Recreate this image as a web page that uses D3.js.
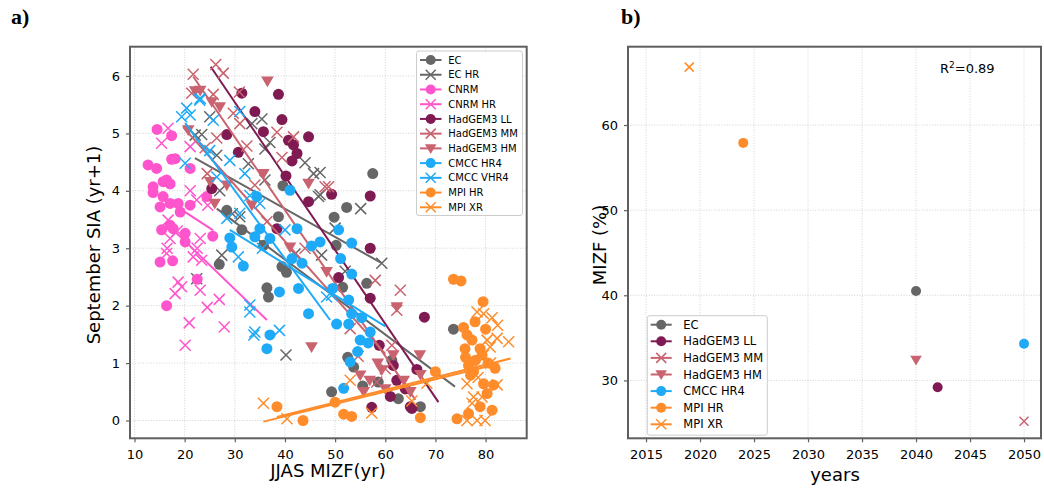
<!DOCTYPE html>
<html><head><meta charset="utf-8">
<script src="https://cdn.jsdelivr.net/npm/d3@7"></script>
<style>
body{margin:0;background:#fff}
svg{font-family:"DejaVu Sans",sans-serif}
</style>
</head><body>
<svg id="c" width="1044" height="489"></svg>
<script>
// ---------- Panel a data: [JJAS MIZF(yr), September SIA(yr+1)] ----------
const ecPts = [[57.5,4.30],[52.3,3.71],[49.8,3.54],[50.2,3.05],[56.3,2.39],[51.5,2.32],[39.6,4.09],[28.4,3.66],[38.7,3.55],[31.4,3.32],[35.7,3.05],[26.9,2.72],[39.4,2.68],[40.3,2.58],[36.4,2.31],[36.7,2.15],[53.7,0.93],[49.3,0.50],[62.6,0.38],[67.0,0.24],[58.6,0.67],[61.3,1.05],[73.6,1.59],[52.5,1.10],[55.5,0.60]];
const ecHrPts = [[25.0,5.29],[35.4,5.25],[33.4,5.17],[22.1,4.97],[23.4,4.98],[37.0,4.84],[36.0,4.73],[44.0,4.49],[32.7,4.47],[47.0,4.32],[36.0,4.19],[26.4,4.62],[47.0,3.93],[27.0,4.00],[46.7,3.90],[55.1,3.69],[59.3,2.74],[50.0,3.35],[47.3,2.88],[27.4,2.88],[22.4,2.47],[45.7,4.30],[40.2,1.14],[29.5,3.60],[31.0,3.55],[52.0,2.60],[42.0,2.90]];
const cnrmPts = [[14.5,5.07],[17.4,4.96],[12.7,4.45],[14.4,4.39],[17.4,4.55],[18.1,4.56],[16.4,4.19],[15.7,4.16],[17.1,4.12],[13.7,4.07],[13.7,3.97],[21.1,4.39],[15.7,3.90],[17.1,3.78],[18.7,3.78],[15.1,3.72],[19.1,3.63],[21.1,3.75],[15.4,3.32],[17.7,3.34],[20.1,3.26],[25.6,3.21],[24.4,3.90],[17.1,3.40],[20.1,3.11],[15.1,2.76],[17.6,2.78],[22.5,2.46],[16.4,2.00]];
const cnrmHrPts = [[16.7,5.09],[15.4,4.83],[21.1,4.77],[21.1,4.00],[22.4,3.84],[16.7,3.49],[17.1,3.17],[23.1,3.17],[16.4,2.91],[21.7,2.85],[23.4,2.79],[18.7,2.41],[19.4,2.33],[18.1,2.21],[23.1,2.27],[24.5,1.97],[26.9,2.11],[20.9,1.70],[27.9,1.63],[20.1,1.31],[18.5,3.30],[22.5,3.00],[16.5,3.00],[24.6,3.75]];
const ll = [[31.4,5.70],[38.7,5.68],[34.0,5.38],[39.4,5.24],[28.4,4.98],[35.7,5.03],[40.7,4.88],[44.7,4.94],[41.7,4.80],[42.4,4.65],[41.4,4.52],[30.7,4.67],[40.2,4.26],[25.4,4.04],[44.7,3.81],[57.0,3.91],[49.3,3.94],[57.0,3.00],[50.7,2.49],[57.0,2.13],[67.8,1.80],[58.8,1.31],[61.6,0.96],[66.3,0.89],[62.3,0.70],[61.0,0.42],[65.0,0.24],[65.3,0.21],[57.3,0.23],[38.4,3.34],[64.0,0.55]];
const mm = [[26.2,6.20],[27.7,6.05],[21.7,6.03],[21.4,5.70],[25.7,5.68],[30.9,5.72],[29.7,5.35],[31.0,5.17],[38.4,5.02],[24.1,4.75],[26.4,4.92],[41.7,4.94],[32.4,4.78],[39.4,4.58],[48.7,4.07],[48.0,4.07],[58.0,2.44],[63.0,2.27],[62.3,1.92],[54.6,1.12],[61.3,1.31],[58.3,0.67],[36.4,3.46],[44.0,3.00],[53.0,1.60],[60.0,0.90],[24.5,4.30],[34.0,4.10]];
const hm = [[36.5,5.91],[22.1,5.74],[23.1,5.75],[25.4,5.55],[27.0,5.46],[35.7,4.30],[44.7,4.13],[20.7,5.06],[25.1,4.16],[28.4,4.10],[26.0,3.78],[33.4,3.75],[41.0,3.02],[48.3,2.59],[62.3,1.98],[45.3,1.28],[55.0,0.79],[56.9,0.70],[59.3,0.88],[61.6,1.14],[66.9,1.14],[55.7,0.50],[65.0,0.50],[63.7,0.70],[60.0,0.55],[58.5,1.00],[67.0,0.80]];
const hr4 = [[34.4,3.90],[35.0,3.34],[34.0,3.20],[37.0,3.17],[29.0,3.18],[29.4,3.02],[31.7,2.69],[42.4,3.34],[45.3,3.04],[47.0,3.11],[41.4,2.82],[43.4,2.74],[42.7,2.30],[38.9,2.24],[44.7,1.86],[37.0,1.49],[36.4,1.25],[50.7,3.32],[53.3,3.09],[51.1,2.82],[53.3,2.55],[52.7,2.10],[53.3,1.86],[55.3,1.79],[50.3,1.68],[52.7,1.68],[57.0,1.54],[55.0,1.40],[56.6,1.35],[53.0,1.02],[51.7,0.56],[41.0,4.01],[49.5,2.30],[54.5,1.20]];
const vhr4 = [[23.1,5.61],[20.4,5.44],[21.1,5.32],[19.4,5.29],[25.7,5.23],[31.0,5.38],[20.1,4.48],[29.0,4.53],[32.0,4.30],[33.0,3.92],[23.0,5.58],[26.4,4.24],[35.0,3.78],[28.4,3.52],[40.0,3.32],[31.0,3.61],[30.7,2.85],[33.0,2.01],[33.0,1.89],[34.0,1.54],[38.9,1.57],[33.8,1.49],[48.3,2.15],[49.3,2.18],[35.5,3.00],[25.0,4.70]];
const mpiHr = [[73.6,2.46],[75.1,2.43],[79.5,2.07],[77.9,1.72],[75.6,1.62],[80.0,1.59],[76.3,1.49],[77.3,1.40],[75.9,1.25],[78.9,1.25],[79.3,1.14],[81.9,0.91],[76.6,0.96],[77.6,0.85],[77.0,0.79],[79.6,0.64],[81.6,0.62],[80.3,0.47],[78.9,0.24],[81.3,0.18],[74.3,0.03],[76.6,0.12],[70.0,0.85],[50.0,0.32],[51.7,0.11],[53.3,0.07],[67.0,0.05],[38.4,0.24],[43.6,0.00],[78.0,1.05],[76.0,1.10],[80.5,1.00]];
const mpiXr = [[78.3,1.89],[79.6,1.86],[81.3,1.79],[82.4,1.66],[84.6,1.37],[82.3,1.43],[80.3,1.40],[80.9,1.28],[76.3,0.64],[77.6,0.41],[77.3,0.30],[79.3,0.41],[76.3,0.00],[78.3,0.00],[79.9,0.00],[79.6,1.14],[82.3,0.62],[53.0,0.70],[57.3,0.13],[65.3,0.34],[68.3,0.65],[35.7,0.30],[40.4,0.03],[77.5,1.00],[78.5,0.75],[81.0,1.00]];

// regression lines: [x0, y0, x1, y1]
const fitEc = [26.4,3.69,73.9,0.59];
const fitEcHr = [22.05,4.57,59.3,2.74];
const fitCnrm = [18.5,3.72,25.7,3.31];
const fitCnrmHr = [17.1,3.37,36.4,1.75];
const fitLl = [25.2,6.16,70.6,0.32];
const fitMm = [21.7,5.99,66.0,0.36];
const fitHm = [19.7,5.11,60.0,1.16];
const fitHr4 = [29.0,3.32,60.0,1.64];
const fitVhr4 = [20.1,5.18,49.0,1.75];
const fitMpiHr = [35.7,-0.02,82.6,0.99];
const fitMpiXr = [38.4,0.06,85.0,1.08];

const seriesNamesA = ["EC","EC HR","CNRM","CNRM HR","HadGEM3 LL","HadGEM3 MM","HadGEM3 HM","CMCC HR4","CMCC VHR4","MPI HR","MPI XR"];
const xTicksA = [10,20,30,40,50,60,70,80];
const yTicksA = [0,1,2,3,4,5,6];

// ---------- Panel b data ----------
const seriesNamesB = ["EC","HadGEM3 LL","HadGEM3 MM","HadGEM3 HM","CMCC HR4","MPI HR","MPI XR"];
const yearsB = [2040,2042,2050,2040,2050,2024,2019];
const mizfB = [40.5,29.2,25.2,32.4,34.3,57.9,66.8];
const xTicksB = [2015,2020,2025,2030,2035,2040,2045,2050];
const yTicksB = [30,40,50,60];
const r2Text = "0.89";

// ---------- styles ----------
const COL = {gray:"#666666", pink:"#ff55cc", dark:"#7f1a52", rose:"#c9636f", cyan:"#1eaaf7", orange:"#ff8c2a"};
const styleOf = {
  "EC":{c:COL.gray,m:"o"}, "EC HR":{c:COL.gray,m:"x"},
  "CNRM":{c:COL.pink,m:"o"}, "CNRM HR":{c:COL.pink,m:"x"},
  "HadGEM3 LL":{c:COL.dark,m:"o"}, "HadGEM3 MM":{c:COL.rose,m:"x"}, "HadGEM3 HM":{c:COL.rose,m:"v"},
  "CMCC HR4":{c:COL.cyan,m:"o"}, "CMCC VHR4":{c:COL.cyan,m:"x"},
  "MPI HR":{c:COL.orange,m:"o"}, "MPI XR":{c:COL.orange,m:"x"}
};
const ptsA = {"EC":ecPts,"EC HR":ecHrPts,"CNRM":cnrmPts,"CNRM HR":cnrmHrPts,"HadGEM3 LL":ll,"HadGEM3 MM":mm,"HadGEM3 HM":hm,"CMCC HR4":hr4,"CMCC VHR4":vhr4,"MPI HR":mpiHr,"MPI XR":mpiXr};
const fitA = {"EC":fitEc,"EC HR":fitEcHr,"CNRM":fitCnrm,"CNRM HR":fitCnrmHr,"HadGEM3 LL":fitLl,"HadGEM3 MM":fitMm,"HadGEM3 HM":fitHm,"CMCC HR4":fitHr4,"CMCC VHR4":fitVhr4,"MPI HR":fitMpiHr,"MPI XR":fitMpiXr};

const svg = d3.select("#c");
const FRAME = "#5f5f5f";

function marker(g, m, cx, cy, r, color){
  if(m==="o"){
    g.append("circle").attr("cx",cx).attr("cy",cy).attr("r",r).attr("fill",color);
  } else if(m==="x"){
    g.append("path").attr("d",`M${cx-r},${cy-r}L${cx+r},${cy+r}M${cx+r},${cy-r}L${cx-r},${cy+r}`)
      .attr("stroke",color).attr("stroke-width",1.5).attr("fill","none");
  } else {
    const w=r*1.15;
    g.append("path").attr("d",`M${cx-w},${cy-r*0.85}L${cx+w},${cy-r*0.85}L${cx},${cy+r*1.1}Z`).attr("fill",color);
  }
}

function panel(x0,x1,y0,y1,xd,yd,xt,yt){
  const x = d3.scaleLinear().domain(xd).range([x0,x1]);
  const y = d3.scaleLinear().domain(yd).range([y1,y0]);
  const g = svg.append("g");
  // grid
  g.selectAll(".gx").data(xt).join("line").attr("x1",d=>x(d)).attr("x2",d=>x(d)).attr("y1",y0).attr("y2",y1)
    .attr("stroke","#c8c8c8").attr("stroke-width",0.8).attr("stroke-dasharray","1,1.6");
  g.selectAll(".gy").data(yt).join("line").attr("y1",d=>y(d)).attr("y2",d=>y(d)).attr("x1",x0).attr("x2",x1)
    .attr("stroke","#c8c8c8").attr("stroke-width",0.8).attr("stroke-dasharray","1,1.6");
  // axes
  const ax = svg.append("g").attr("transform",`translate(0,${y1})`)
    .call(d3.axisBottom(x).tickValues(xt).tickFormat(d3.format("d")).tickSize(4).tickPadding(7));
  const ay = svg.append("g").attr("transform",`translate(${x0},0)`)
    .call(d3.axisLeft(y).tickValues(yt).tickFormat(d3.format("d")).tickSize(4).tickPadding(6));
  [ax,ay].forEach(a=>{
    a.select(".domain").remove();
    a.selectAll("line").attr("stroke",FRAME).attr("stroke-width",1.2);
    a.selectAll("text").attr("font-size",13).attr("fill","#000").attr("font-family","DejaVu Sans");
  });
  return {x,y,g};
}
function frame(x0,x1,y0,y1){
  svg.append("rect").attr("x",x0).attr("y",y0).attr("width",x1-x0).attr("height",y1-y0)
    .attr("fill","none").attr("stroke",FRAME).attr("stroke-width",2);
}

// ---------- Panel a ----------
const A = panel(130,526.7,46.7,438.3,[9.1,88.2],[-0.31,6.51],xTicksA,yTicksA);
const gA = A.g.append("g");
seriesNamesA.forEach(name=>{
  const st = styleOf[name];
  const gs = gA.append("g");
  ptsA[name].forEach(p=>marker(gs, st.m, A.x(p[0]), A.y(p[1]), 5.5, st.c));
  const f = fitA[name];
  gs.append("line").attr("x1",A.x(f[0])).attr("y1",A.y(f[1])).attr("x2",A.x(f[2])).attr("y2",A.y(f[3]))
    .attr("stroke",st.c).attr("stroke-width",2);
});
// legend a
const lgA = svg.append("g");
lgA.append("rect").attr("x",416.5).attr("y",51).attr("width",106).attr("height",164.5).attr("rx",2.5)
  .attr("fill","#fff").attr("fill-opacity",0.85).attr("stroke","#cccccc").attr("stroke-width",1);
seriesNamesA.forEach((name,i)=>{
  const st = styleOf[name], cy = 60 + i*14.73;
  lgA.append("line").attr("x1",420).attr("x2",441.5).attr("y1",cy).attr("y2",cy).attr("stroke",st.c).attr("stroke-width",2);
  marker(lgA, st.m, 430.7, cy, 5, st.c);
  lgA.append("text").attr("x",448.3).attr("y",cy).attr("dy","0.36em").attr("font-size",10).text(name);
});
frame(130,526.7,46.7,438.3);
svg.append("text").attr("transform","translate(100,245) rotate(-90)").attr("text-anchor","middle")
  .attr("font-size",18).text("September SIA (yr+1)");
svg.append("text").attr("x",328).attr("y",477).attr("text-anchor","middle").attr("font-size",18).text("JJAS MIZF(yr)");
svg.append("text").attr("x",11).attr("y",24).attr("font-family","Liberation Serif").attr("font-weight","bold")
  .attr("font-size",22).text("a)");

// ---------- Panel b ----------
const B = panel(628,1041,46.7,438.3,[2013.33,2051.57],[23.2,69.2],xTicksB,yTicksB);
seriesNamesB.forEach((name,i)=>{
  const st = styleOf[name];
  marker(B.g, st.m, B.x(yearsB[i]), B.y(mizfB[i]), st.m==="x"?4.5:5, st.c);
});
const lgB = svg.append("g");
lgB.append("rect").attr("x",647.3).attr("y",315.7).attr("width",120).attr("height",119.5).attr("rx",2.5)
  .attr("fill","#fff").attr("fill-opacity",0.85).attr("stroke","#cccccc").attr("stroke-width",1);
seriesNamesB.forEach((name,i)=>{
  const st = styleOf[name], cy = 324.7 + i*16.6;
  lgB.append("line").attr("x1",650.7).attr("x2",671.7).attr("y1",cy).attr("y2",cy).attr("stroke",st.c).attr("stroke-width",2);
  marker(lgB, st.m, 661.2, cy, 5, st.c);
  lgB.append("text").attr("x",683.3).attr("y",cy).attr("dy","0.36em").attr("font-size",11.5).text(name);
});
frame(628,1041,46.7,438.3);
const r2 = svg.append("text").attr("x",940).attr("y",73).attr("font-size",13);
r2.append("tspan").text("R");
r2.append("tspan").attr("font-size",9).attr("dy",-5).text("2");
r2.append("tspan").attr("dy",5).text("=" + r2Text);
svg.append("text").attr("transform","translate(606,245) rotate(-90)").attr("text-anchor","middle")
  .attr("font-size",18).text("MIZF (%)");
svg.append("text").attr("x",835).attr("y",481).attr("text-anchor","middle").attr("font-size",18).text("years");
svg.append("text").attr("x",621).attr("y",24).attr("font-family","Liberation Serif").attr("font-weight","bold")
  .attr("font-size",22).text("b)");
</script>
</body></html>
